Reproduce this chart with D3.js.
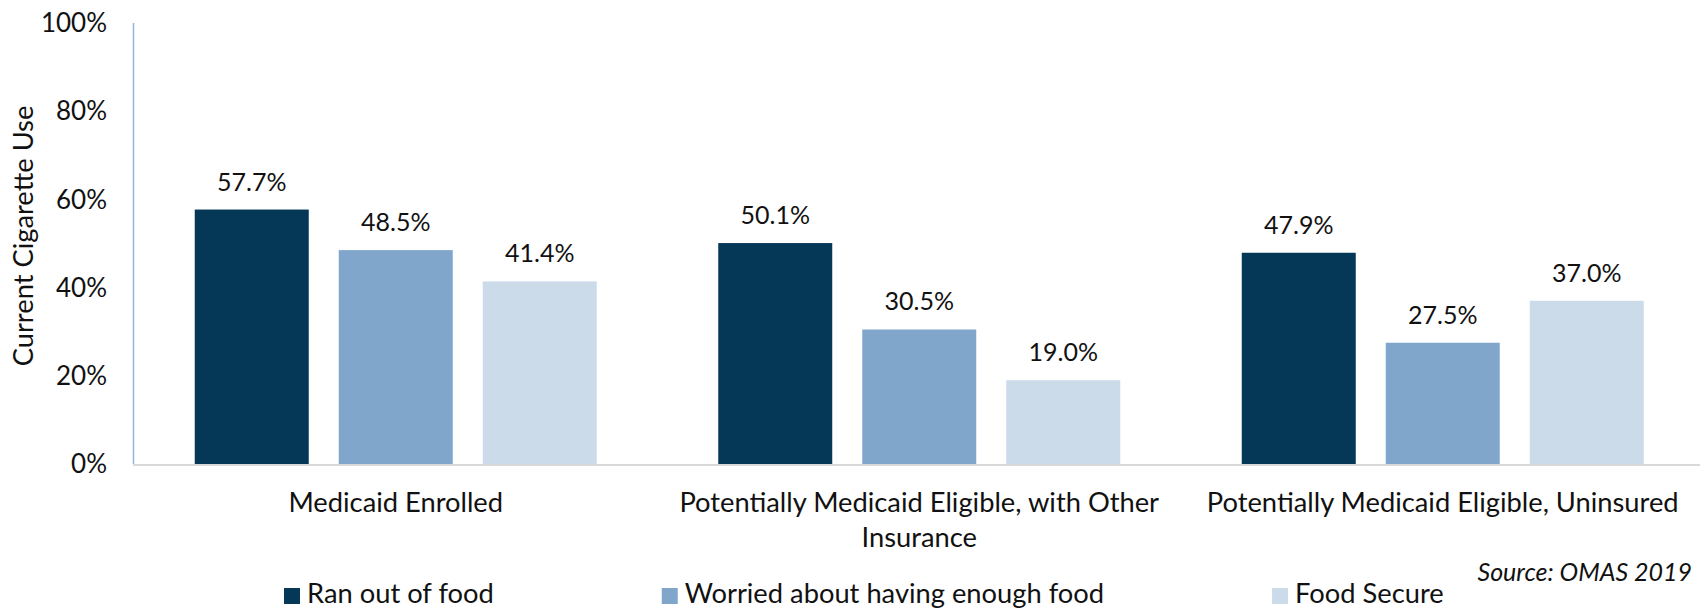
<!DOCTYPE html>
<html>
<head>
<meta charset="utf-8">
<script src="https://cdn.jsdelivr.net/npm/d3@7"></script>
<style>
  html, body { margin: 0; padding: 0; background: #fff; }
  svg { display: block; font-family: Lato, "Open Sans", sans-serif; }
</style>
</head>
<body>
<svg id="chart" width="1700" height="610"></svg>
<script>
// Current cigarette use by Medicaid status and food security
const categories = [
  "Medicaid Enrolled",
  "Potentially Medicaid Eligible, with Other Insurance",
  "Potentially Medicaid Eligible, Uninsured"
];
const seriesNames = ["Ran out of food", "Worried about having enough food", "Food Secure"];
const ranOutOfFood = [57.7, 50.1, 47.9];
const worriedAboutFood = [48.5, 30.5, 27.5];
const foodSecure = [41.4, 19.0, 37.0];
const yTicks = [0, 20, 40, 60, 80, 100];
const seriesColors = ["#043856", "#80a6cc", "#ccdbea"];

const seriesValues = [ranOutOfFood, worriedAboutFood, foodSecure];

const svg = d3.select("#chart");
const labelSize = 27.3;
const valueSize = 25;
const tickSize = 26;

const x = d3.scaleBand().domain(categories).range([134, 1704.5]).paddingInner(0).paddingOuter(0);
const step = x.bandwidth();
const inner = d3.scaleBand().domain(seriesNames)
  .range([60.75, step - 60.75])
  .paddingInner(30 / 144).paddingOuter(0);
const y = d3.scaleLinear().domain([0, 100]).range([464, 23]);

// Value axis line
svg.append("line")
  .attr("x1", 133.5).attr("x2", 133.5)
  .attr("y1", y(100)).attr("y2", y(0))
  .attr("stroke", "#8fb5e0").attr("stroke-width", 1.5);

// Value axis tick labels
svg.append("g").selectAll("text").data(yTicks).join("text")
  .attr("x", 107).attr("y", d => y(d))
  .attr("dy", "0.35em")
  .attr("text-anchor", "end")
  .attr("font-size", tickSize)
  .attr("fill", "#111")
  .text(d => d + "%");

// Axis title
svg.append("text")
  .attr("transform", `translate(33,236) rotate(-90)`)
  .attr("text-anchor", "middle")
  .attr("font-size", labelSize)
  .attr("fill", "#111")
  .text("Current Cigarette Use");

// Bars
const groups = svg.append("g").selectAll("g").data(categories).join("g")
  .attr("transform", d => `translate(${x(d)},0)`);

groups.each(function(cat, ci) {
  const g = d3.select(this);
  const rows = seriesNames.map((s, si) => ({ s, si, v: seriesValues[si][ci] }));
  g.selectAll("rect").data(rows).join("rect")
    .attr("x", d => inner(d.s))
    .attr("width", inner.bandwidth())
    .attr("y", d => y(d.v))
    .attr("height", d => y(0) - y(d.v))
    .attr("fill", d => seriesColors[d.si]);
  g.selectAll("text.val").data(rows).join("text")
    .attr("class", "val")
    .attr("x", d => inner(d.s) + inner.bandwidth() / 2)
    .attr("y", d => y(d.v) - 19)
    .attr("text-anchor", "middle")
    .attr("font-size", valueSize)
    .attr("fill", "#111")
    .text(d => d.v.toFixed(1) + "%");
});

// Category axis line
svg.append("line")
  .attr("x1", 133).attr("x2", 1700)
  .attr("y1", 465).attr("y2", 465)
  .attr("stroke", "#d9d9d9").attr("stroke-width", 2);

// Category labels, wrapped to the band width
const catLabels = svg.append("g").selectAll("text").data(categories).join("text")
  .attr("text-anchor", "middle")
  .attr("font-size", labelSize)
  .attr("fill", "#111")
  .attr("x", d => x(d) + step / 2)
  .attr("y", 512);

catLabels.each(function(d) {
  const t = d3.select(this);
  const words = d.split(" ");
  const maxW = step - 20;
  let line = [];
  let tspan = t.append("tspan").attr("x", x(d) + step / 2).attr("dy", 0);
  for (const w of words) {
    line.push(w);
    tspan.text(line.join(" "));
    if (tspan.node().getComputedTextLength() > maxW && line.length > 1) {
      line.pop();
      tspan.text(line.join(" "));
      line = [w];
      tspan = t.append("tspan").attr("x", x(d) + step / 2).attr("dy", 35).text(w);
    }
  }
});

// Source note
svg.append("text")
  .attr("x", 1692).attr("y", 581)
  .attr("text-anchor", "end")
  .attr("font-size", valueSize)
  .attr("font-style", "italic")
  .attr("fill", "#111")
  .text("Source: OMAS 2019");

// Legend
const legend = svg.append("g");
let lx = 284;
seriesNames.forEach((name, i) => {
  legend.append("rect")
    .attr("x", lx).attr("y", 588)
    .attr("width", 16).attr("height", 16)
    .attr("fill", seriesColors[i]);
  const t = legend.append("text")
    .attr("x", lx + 23).attr("y", 603)
    .attr("font-size", labelSize)
    .attr("fill", "#111")
    .text(name);
  lx = lx + 23 + t.node().getComputedTextLength() + 168;
});
</script>
</body>
</html>
